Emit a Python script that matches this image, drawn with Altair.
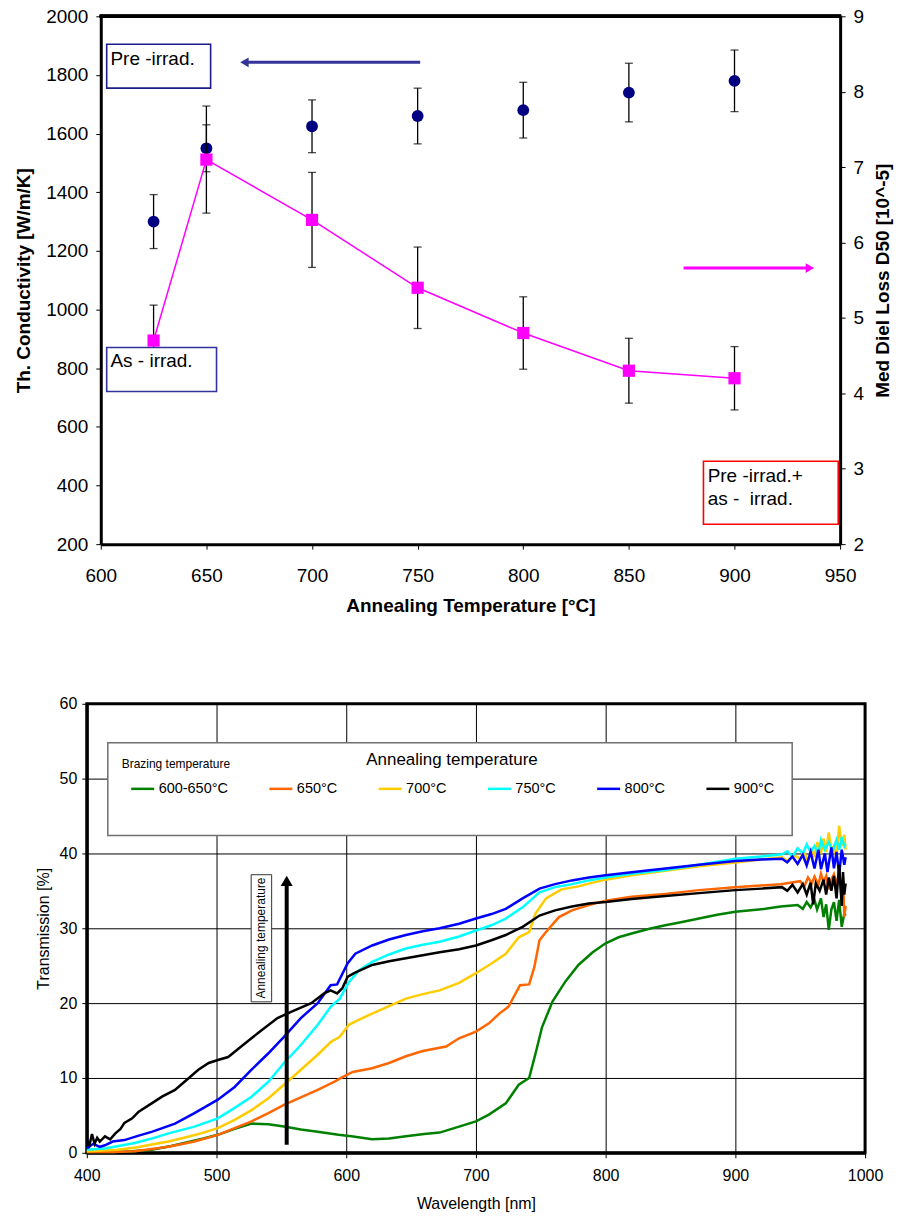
import altair as alt
import pandas as pd

FONT = "Liberation Sans"

# ---------------------------------------------------------------------------
# Upper panel: thermal conductivity (pre-irradiated) and dielectric loss
# (as-irradiated) versus annealing temperature
# ---------------------------------------------------------------------------
anneal_temp = [625, 650, 700, 750, 800, 850, 900]
pre_conductivity = [1300, 1550, 1625, 1660, 1680, 1740, 1780]
pre_conductivity_err = [92, 80, 90, 95, 95, 100, 105]
as_diel_loss = [4.7, 7.1, 6.3, 5.4, 4.8, 4.3, 4.2]
as_diel_loss_err = [0.47, 0.71, 0.63, 0.54, 0.48, 0.43, 0.42]

temp_ticks = [600, 650, 700, 750, 800, 850, 900, 950]
conductivity_ticks = [200, 400, 600, 800, 1000, 1200, 1400, 1600, 1800, 2000]
loss_ticks = [2, 3, 4, 5, 6, 7, 8, 9]

# ---------------------------------------------------------------------------
# Lower panel: transmission spectra after annealing
# ---------------------------------------------------------------------------
series_labels = ["600-650°C", "650°C", "700°C", "750°C", "800°C", "900°C"]
series_colors = ["#008000", "#FF6600", "#FFCC00", "#00FFFF", "#0000FF", "#000000"]

wl_600_650 = [400, 420, 435, 450, 465, 475, 490, 501, 514, 527, 540, 552, 565, 578, 594, 604,
              620, 633, 646, 660, 672, 687, 700, 710, 723, 733, 741, 746, 751, 759, 769, 779,
              790, 800, 810, 820, 833, 846, 858, 872, 886, 900, 912, 923, 935, 948, 952, 955,
              958, 961, 963, 966, 968, 970, 972, 974, 976, 978, 980, 982, 984, 985]
tr_600_650 = [0.1, 0.1, 0.2, 0.4, 0.9, 1.3, 1.9, 2.4, 3.2, 3.9, 3.8, 3.5, 3.1, 2.8, 2.4, 2.2,
              1.8, 1.9, 2.2, 2.5, 2.7, 3.5, 4.2, 5.1, 6.6, 9.1, 10.0, 13.3, 16.8, 20.2, 22.9, 25.1,
              26.8, 28.0, 28.8, 29.3, 29.9, 30.4, 30.8, 31.3, 31.8, 32.2, 32.4, 32.6, 32.9, 33.1, 32.6, 33.5,
              32.8, 33.8, 32.5, 34.0, 31.5, 33.2, 29.8, 32.5, 33.5, 31.0, 33.8, 30.2, 32.0, 31.7]

wl_650 = [400, 420, 437, 450, 463, 483, 501, 514, 527, 540, 552, 565, 578, 591, 596, 605,
          620, 633, 646, 659, 677, 687, 700, 710, 718, 725, 734, 741, 745, 749, 754, 764,
          774, 787, 800, 820, 846, 872, 900, 935, 950, 953, 956, 959, 961, 964, 966, 968,
          970, 972, 974, 976, 978, 980, 982, 983, 984, 985]
tr_650 = [0.1, 0.1, 0.2, 0.5, 0.8, 1.5, 2.4, 3.3, 4.2, 5.3, 6.4, 7.4, 8.4, 9.5, 10.0, 10.8,
          11.3, 12.0, 12.9, 13.6, 14.2, 15.3, 16.2, 17.3, 18.6, 19.5, 22.4, 22.5, 24.8, 28.4, 29.5, 31.5,
          32.4, 33.1, 33.7, 34.2, 34.6, 35.1, 35.5, 35.9, 36.3, 35.5, 36.8, 36.0, 36.9, 35.8, 37.3, 36.2,
          37.0, 35.2, 36.5, 37.2, 35.8, 37.5, 34.0, 36.5, 31.5, 33.0]

wl_700 = [400, 424, 438, 450, 463, 475, 488, 501, 514, 527, 540, 552, 565, 578, 588, 593,
          595, 602, 610, 620, 633, 646, 659, 672, 687, 700, 712, 723, 733, 741, 746, 754,
          766, 779, 790, 800, 820, 846, 872, 900, 920, 936, 940, 945, 950, 953, 956, 959,
          961, 963, 966, 968, 970, 972, 974, 976, 978, 980, 982, 984, 985]
tr_700 = [0.2, 0.4, 0.7, 1.1, 1.5, 2.0, 2.6, 3.3, 4.4, 5.7, 7.3, 9.1, 11.1, 13.1, 14.8, 15.3,
          15.5, 17.1, 17.8, 18.6, 19.6, 20.6, 21.2, 21.7, 22.7, 24.0, 25.3, 26.6, 28.8, 29.5, 32.0, 34.0,
          35.2, 35.6, 36.1, 36.5, 37.1, 37.7, 38.3, 38.8, 39.2, 39.5, 39.0, 39.8, 39.3, 40.2, 39.0, 40.5,
          39.5, 41.5, 40.0, 42.0, 40.2, 42.8, 40.5, 41.0, 39.5, 43.7, 41.0, 42.5, 40.5]

wl_750 = [400, 415, 437, 450, 463, 483, 501, 514, 527, 540, 552, 565, 578, 588, 595, 602,
          610, 620, 633, 646, 659, 672, 687, 700, 712, 723, 736, 749, 761, 774, 787, 800,
          820, 846, 872, 900, 920, 936, 940, 944, 948, 952, 955, 958, 961, 964, 966, 969,
          972, 975, 978, 980, 982, 984, 985]
tr_750 = [0.4, 0.6, 1.3, 1.9, 2.6, 3.5, 4.6, 6.0, 7.5, 9.5, 12.0, 14.4, 17.1, 19.5, 20.6, 22.8,
          24.4, 25.5, 26.5, 27.3, 27.8, 28.2, 28.9, 29.7, 30.4, 31.3, 32.8, 34.8, 35.5, 35.9, 36.4, 36.8,
          37.3, 37.8, 38.5, 39.3, 39.6, 39.9, 40.3, 39.6, 40.7, 40.0, 41.2, 40.2, 41.0, 40.0, 41.8, 40.5,
          41.5, 40.3, 41.8, 40.5, 42.2, 41.0, 41.3]

wl_800 = [400, 405, 410, 414, 420, 429, 440, 450, 468, 483, 501, 514, 527, 540, 552, 565,
          578, 588, 593, 601, 607, 620, 633, 646, 659, 672, 687, 700, 712, 723, 736, 749,
          761, 774, 787, 800, 820, 846, 872, 900, 920, 936, 940, 944, 948, 952, 955, 958,
          961, 964, 966, 969, 971, 974, 976, 978, 980, 982, 984, 985]
tr_800 = [0.6, 1.2, 0.8, 1.0, 1.5, 1.7, 2.3, 2.8, 3.9, 5.3, 7.1, 8.8, 11.1, 13.3, 15.5, 18.0,
          20.0, 22.4, 22.5, 25.3, 26.6, 27.7, 28.5, 29.1, 29.6, 30.0, 30.6, 31.3, 31.9, 32.6, 34.0, 35.3,
          35.9, 36.4, 36.8, 37.1, 37.5, 38.0, 38.5, 39.0, 39.2, 39.3, 38.8, 39.6, 38.6, 39.8, 38.4, 40.2,
          38.0, 40.5, 37.9, 40.0, 37.5, 40.8, 38.0, 40.2, 37.2, 40.5, 38.5, 39.5]

wl_900 = [400, 402, 404, 406, 408, 410, 414, 418, 422, 426, 429, 435, 440, 450, 458, 468,
          476, 486, 494, 501, 509, 519, 532, 547, 557, 573, 583, 588, 593, 597, 601, 606,
          620, 633, 646, 659, 672, 687, 700, 712, 723, 736, 749, 761, 774, 787, 800, 820,
          846, 872, 900, 920, 936, 940, 944, 948, 952, 955, 958, 960, 962, 965, 968, 970,
          972, 974, 976, 978, 980, 982, 983, 984, 985]
tr_900 = [1.7, 1.0, 2.5, 1.2, 2.0, 1.5, 2.2, 1.8, 2.6, 3.2, 4.0, 4.6, 5.5, 6.6, 7.5, 8.4,
          9.6, 11.1, 12.0, 12.4, 12.8, 14.2, 16.0, 18.0, 18.8, 20.0, 21.3, 21.7, 21.3, 22.0, 23.5, 24.0,
          25.1, 25.6, 26.0, 26.4, 26.8, 27.2, 27.7, 28.4, 29.1, 30.2, 31.7, 32.4, 32.9, 33.3, 33.5, 33.9,
          34.3, 34.7, 35.1, 35.3, 35.5, 35.0, 35.8, 34.8, 35.9, 34.5, 36.1, 33.2, 36.0, 35.0, 36.5, 34.5,
          36.8, 35.0, 37.0, 34.0, 38.5, 33.0, 37.5, 34.5, 36.0]

wavelength_ticks = [400, 500, 600, 700, 800, 900, 1000]
transmission_ticks = [0, 10, 20, 30, 40, 50, 60]

# ---------------------------------------------------------------------------
# Upper panel
# ---------------------------------------------------------------------------
cond_df = pd.DataFrame({"T": anneal_temp, "v": pre_conductivity, "e": pre_conductivity_err})
cond_df["lo"] = cond_df["v"] - cond_df["e"]
cond_df["hi"] = cond_df["v"] + cond_df["e"]
loss_df = pd.DataFrame({"T": anneal_temp, "v": as_diel_loss, "e": as_diel_loss_err})
loss_df["lo"] = loss_df["v"] - loss_df["e"]
loss_df["hi"] = loss_df["v"] + loss_df["e"]

TOP_W, TOP_H = 755, 529
X_SHIFT = 14  # plot rectangle of the upper panel starts this far right of the lower one

x_top = alt.Scale(domain=[600, 950], range=[X_SHIFT, TOP_W], nice=False, zero=False)
y_left = alt.Scale(domain=[200, 2000], nice=False, zero=False)
y_right = alt.Scale(domain=[2, 9], nice=False, zero=False)

x_axis_top = alt.Axis(values=temp_ticks, title="Annealing Temperature [°C]", grid=False,
                      domainWidth=3, tickSize=5, tickWidth=1, labelFontSize=19,
                      titleFontSize=19, titleFontWeight="bold", labelPadding=17,
                      titlePadding=12, labelFlush=False, format="d")
left_axis = alt.Axis(orient="left", offset=-X_SHIFT, values=conductivity_ticks,
                     title="Th. Conductivity [W/m/K]", grid=False, domainWidth=3,
                     tickSize=5, labelFontSize=19, titleFontSize=19, titleFontWeight="bold",
                     labelPadding=8, titlePadding=12, format="d")
right_axis = alt.Axis(orient="right", values=loss_ticks, title="Med Diel Loss D50 [10^-5]",
                      grid=False, domainWidth=3, tickSize=5, labelFontSize=19,
                      titleFontSize=19, titleFontWeight="bold", labelPadding=8,
                      titlePadding=10, titleAngle=270, titleBaseline="top", format="d")


def tx(field="T"):
    return alt.X(f"{field}:Q", scale=x_top, axis=x_axis_top)


def yl(field):
    return alt.Y(f"{field}:Q", scale=y_left, axis=left_axis)


def yr(field):
    return alt.Y(f"{field}:Q", scale=y_right, axis=right_axis)


# left-axis layers
cond_err = alt.Chart(cond_df).mark_rule(color="black", strokeWidth=1.3).encode(
    x=tx(), y=yl("lo"), y2="hi:Q")
cond_cap_lo = alt.Chart(cond_df).mark_tick(orient="horizontal", size=8, thickness=1.3,
                                           color="black").encode(x=tx(), y=yl("lo"))
cond_cap_hi = alt.Chart(cond_df).mark_tick(orient="horizontal", size=8, thickness=1.3,
                                           color="black").encode(x=tx(), y=yl("hi"))
cond_pts = alt.Chart(cond_df).mark_circle(size=140, color="#000080", opacity=1).encode(
    x=tx(), y=yl("v"))

label_boxes = pd.DataFrame({
    "x1": [602.8, 885.3], "x2": [652.0, 949.1],
    "y1": [1905, 482.5], "y2": [1755, 268],
    "col": ["#1c1c8c", "#FF0000"],
})
boxes_left = alt.Chart(label_boxes).mark_rect(fill="white", strokeWidth=1.6).encode(
    x=tx("x1"), x2="x2:Q", y=yl("y1"), y2="y2:Q", stroke=alt.Stroke("col:N", scale=None))
left_notes = pd.DataFrame({"x": [604.6, 887.3, 887.3], "y": [1856, 433.8, 355.6],
                           "t": ["Pre -irrad.", "Pre -irrad.+", "as - \u00a0irrad."]})
notes_left = alt.Chart(left_notes).mark_text(align="left", baseline="middle", fontSize=19,
                                             font=FONT, color="black").encode(
    x=tx("x"), y=yl("y"), text="t:N")
pre_arrow = pd.DataFrame({"x1": [668.0], "x2": [751.2], "y": [1843]})
pre_shaft = alt.Chart(pre_arrow).mark_rule(color="#333399", strokeWidth=3).encode(
    x=tx("x1"), x2="x2:Q", y=yl("y"))
pre_head = alt.Chart(pre_arrow).mark_point(shape="triangle-left", size=95, filled=True,
                                           color="#333399", opacity=1).encode(
    x=tx("x1"), y=yl("y"))
top_edge = alt.Chart(cond_df).mark_rule(color="black", strokeWidth=3).encode(
    x=alt.value(X_SHIFT - 1), x2=alt.value(TOP_W + 1), y=alt.value(0))

left_group = alt.layer(cond_err, cond_cap_lo, cond_cap_hi, cond_pts, boxes_left,
                       notes_left, pre_shaft, pre_head, top_edge)

# right-axis layers
loss_err = alt.Chart(loss_df).mark_rule(color="black", strokeWidth=1.3).encode(
    x=tx(), y=yr("lo"), y2="hi:Q")
loss_cap_lo = alt.Chart(loss_df).mark_tick(orient="horizontal", size=8, thickness=1.3,
                                           color="black").encode(x=tx(), y=yr("lo"))
loss_cap_hi = alt.Chart(loss_df).mark_tick(orient="horizontal", size=8, thickness=1.3,
                                           color="black").encode(x=tx(), y=yr("hi"))
as_box = pd.DataFrame({"x1": [602.8], "x2": [654.8], "y1": [4.607], "y2": [4.025],
                       "tx": [604.6], "ty": [4.435], "t": ["As - irrad."]})
as_rect = alt.Chart(as_box).mark_rect(fill="white", stroke="#33339c", strokeWidth=1.6).encode(
    x=tx("x1"), x2="x2:Q", y=yr("y1"), y2="y2:Q")
as_text = alt.Chart(as_box).mark_text(align="left", baseline="middle", fontSize=19,
                                      font=FONT, color="black").encode(
    x=tx("tx"), y=yr("ty"), text="t:N")
loss_line = alt.Chart(loss_df).mark_line(color="#FF00FF", strokeWidth=1.5).encode(
    x=tx(), y=yr("v"))
loss_pts = alt.Chart(loss_df).mark_square(size=150, color="#FF00FF", opacity=1).encode(
    x=tx(), y=yr("v"))
as_arrow = pd.DataFrame({"x1": [875.9], "x2": [935.7], "y": [5.661]})
as_shaft = alt.Chart(as_arrow).mark_rule(color="#FF00FF", strokeWidth=3).encode(
    x=tx("x1"), x2="x2:Q", y=yr("y"))
as_head = alt.Chart(as_arrow).mark_point(shape="triangle-right", size=95, filled=True,
                                         color="#FF00FF", opacity=1).encode(
    x=tx("x2"), y=yr("y"))

right_group = alt.layer(loss_err, loss_cap_lo, loss_cap_hi, as_rect, as_text, loss_line,
                        loss_pts, as_shaft, as_head)

top_chart = alt.layer(left_group, right_group).resolve_scale(y="independent").properties(
    width=TOP_W, height=TOP_H)

# ---------------------------------------------------------------------------
# Lower panel
# ---------------------------------------------------------------------------
spectra = [
    (series_labels[0], wl_600_650, tr_600_650),
    (series_labels[1], wl_650, tr_650),
    (series_labels[2], wl_700, tr_700),
    (series_labels[3], wl_750, tr_750),
    (series_labels[4], wl_800, tr_800),
    (series_labels[5], wl_900, tr_900),
]
spec_df = pd.concat(
    [pd.DataFrame({"series": name, "wl": wl, "tr": tr}) for name, wl, tr in spectra],
    ignore_index=True)

BOT_W, BOT_H = 780, 450
x_bot = alt.Scale(domain=[400, 1000], nice=False, zero=False)
y_bot = alt.Scale(domain=[0, 60], nice=False, zero=False)

x_axis_bot = alt.Axis(values=wavelength_ticks, title="Wavelength [nm]", grid=True,
                      gridColor="black", gridWidth=1, domainWidth=3, tickSize=5,
                      labelFontSize=16, titleFontSize=16, titleFontWeight="normal",
                      labelPadding=10, titlePadding=12, labelFlush=False, format="d")
y_axis_bot = alt.Axis(values=transmission_ticks, title="Transmission [%]", grid=True,
                      gridColor="black", gridWidth=1, domainWidth=3, tickSize=5,
                      labelFontSize=16, titleFontSize=16, titleFontWeight="normal",
                      labelPadding=5, titlePadding=8, format="d")


def bx(field):
    return alt.X(f"{field}:Q", scale=x_bot, axis=x_axis_bot)


def by(field):
    return alt.Y(f"{field}:Q", scale=y_bot, axis=y_axis_bot)


legend = alt.Legend(title="Annealing temperature", orient="none", legendX=43, legendY=48,
                    direction="horizontal", columns=6, symbolType="stroke", symbolSize=529,
                    symbolStrokeWidth=2.5, labelFontSize=14.5, labelFont=FONT,
                    titleFont=FONT, titleFontSize=17, titleFontWeight="normal",
                    titleAnchor="middle", gridAlign="each", columnPadding=35.5, labelOffset=3,
                    titlePadding=7, labelColor="black", titleColor="black", padding=0)

lines = alt.Chart(spec_df).mark_line(strokeWidth=2.5).encode(
    x=bx("wl"),
    y=by("tr"),
    color=alt.Color("series:N", scale=alt.Scale(domain=series_labels, range=series_colors),
                    legend=legend, sort=series_labels),
    order=alt.Order("wl:Q"),
)

legend_box = pd.DataFrame({"x1": [416.2], "x2": [943.8], "y1": [54.8], "y2": [42.4]})
legend_rect = alt.Chart(legend_box).mark_rect(fill="white", stroke="#707070",
                                              strokeWidth=1.5).encode(
    x=bx("x1"), x2="x2:Q", y=by("y1"), y2="y2:Q")
brazing = pd.DataFrame({"x": [426.9], "y": [52.0], "t": ["Brazing temperature"]})
brazing_text = alt.Chart(brazing).mark_text(align="left", baseline="middle", fontSize=12,
                                            font=FONT, color="black").encode(
    x=bx("x"), y=by("y"), text="t:N")

trend_box = pd.DataFrame({"x1": [526.7], "x2": [542.5], "y1": [37.16], "y2": [20.17],
                          "tx": [534.6], "ty": [28.7], "t": ["Annealing temperature"]})
trend_rect = alt.Chart(trend_box).mark_rect(fill="white", stroke="#333333",
                                            strokeWidth=1).encode(
    x=bx("x1"), x2="x2:Q", y=by("y1"), y2="y2:Q")
trend_text = alt.Chart(trend_box).mark_text(angle=270, align="center", baseline="middle",
                                            fontSize=12, font=FONT, color="black").encode(
    x=bx("tx"), y=by("ty"), text="t:N")
trend_arrow = pd.DataFrame({"x": [554.1], "y1": [1.07], "y2": [35.8], "yh": [36.33]})
trend_shaft = alt.Chart(trend_arrow).mark_rule(color="black", strokeWidth=4).encode(
    x=bx("x"), y=by("y1"), y2="y2:Q")
trend_head = alt.Chart(trend_arrow).mark_point(shape="triangle-up", size=144, filled=True,
                                               color="black", opacity=1).encode(
    x=bx("x"), y=by("yh"))

bottom_chart = alt.layer(lines, trend_shaft, trend_head, trend_rect, trend_text,
                         legend_rect, brazing_text).properties(
    width=BOT_W, height=BOT_H,
    view=alt.ViewBackground(stroke="black", strokeWidth=3))

chart = alt.vconcat(top_chart, bottom_chart, spacing=78).resolve_scale(
    color="independent").resolve_legend(color="independent").properties(
    padding={"left": 14, "top": 6, "right": 5, "bottom": 5}
).configure(font=FONT).configure_view(stroke=None).configure_axis(
    labelFont=FONT, titleFont=FONT, labelColor="black", titleColor="black",
    tickColor="black", domainColor="black"
).configure_legend(labelFont=FONT, titleFont=FONT)

chart.save("out.html", embed_options={"renderer": "svg", "actions": False})
